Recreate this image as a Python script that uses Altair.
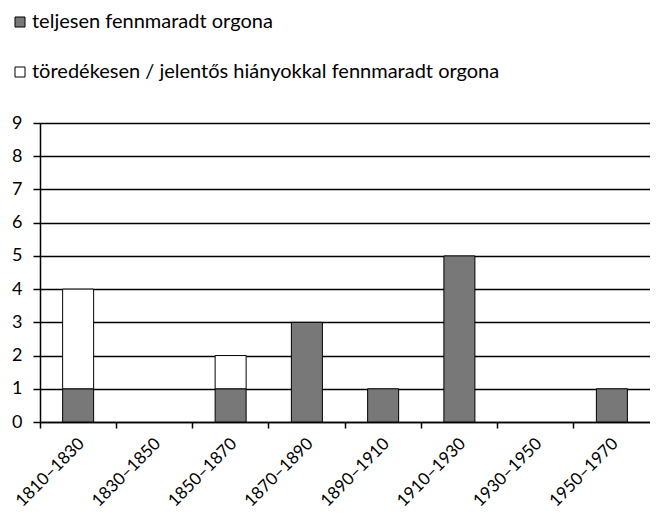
import altair as alt
import pandas as pd

categories = ["1810–1830", "1830–1850", "1850–1870", "1870–1890",
              "1890–1910", "1910–1930", "1930–1950", "1950–1970"]
full_counts = [1, 0, 1, 3, 1, 5, 0, 1]
fragment_counts = [3, 0, 1, 0, 0, 0, 0, 0]
series_names = ["teljesen fennmaradt orgona",
                "töredékesen / jelentős hiányokkal fennmaradt orgona"]
series_colors = ["#787878", "#ffffff"]

rows = []
for c, f, g in zip(categories, full_counts, fragment_counts):
    rows.append({"period": c, "series": series_names[0], "count": f, "ord": 0})
    rows.append({"period": c, "series": series_names[1], "count": g, "ord": 1})
df = pd.DataFrame(rows)

FONT = "Lato"

chart = alt.Chart(df).transform_filter(
    alt.datum.count > 0
).mark_bar(width=31, stroke="black", strokeWidth=1).encode(
    x=alt.X("period:N", sort=categories,
            scale=alt.Scale(domain=categories, paddingInner=0, paddingOuter=0),
            axis=alt.Axis(title=None, bandPosition=0, labelAngle=-45,
                          labelAlign="right", labelBaseline="top",
                          labelOffset=-2, labelPadding=7,
                          tickSize=6, tickColor="black", tickWidth=1.5,
                          domainColor="black", domainWidth=1.5,
                          labelFont=FONT, labelFontSize=17, labelColor="black",
                          grid=False)),
    y=alt.Y("count:Q", stack="zero",
            scale=alt.Scale(domain=[0, 9], nice=False),
            axis=alt.Axis(title=None, values=list(range(10)),
                          tickSize=7, tickColor="black", tickWidth=1.5,
                          domainColor="black", domainWidth=1.5,
                          grid=True, gridColor="black", gridWidth=1.5,
                          gridOpacity=1,
                          labelFont=FONT, labelFontSize=18, labelColor="black",
                          labelPadding=11)),
    color=alt.Color("series:N",
                    scale=alt.Scale(domain=series_names, range=series_colors),
                    legend=alt.Legend(title=None, orient="none",
                                      legendX=-30, legendY=-111,
                                      direction="vertical",
                                      symbolType="square", symbolSize=100,
                                      symbolStrokeColor="black",
                                      symbolStrokeWidth=1,
                                      rowPadding=30, labelLimit=0,
                                      labelFont=FONT, labelFontSize=20,
                                      labelColor="black", labelOffset=2)),
    order=alt.Order("ord:Q"),
).properties(
    width=610, height=299,
    padding={"left": 32, "top": 115, "right": 0, "bottom": 95},
    autosize="none",
).configure_view(stroke=None)

chart.save("out.html", embed_options={"renderer": "svg", "actions": False})
